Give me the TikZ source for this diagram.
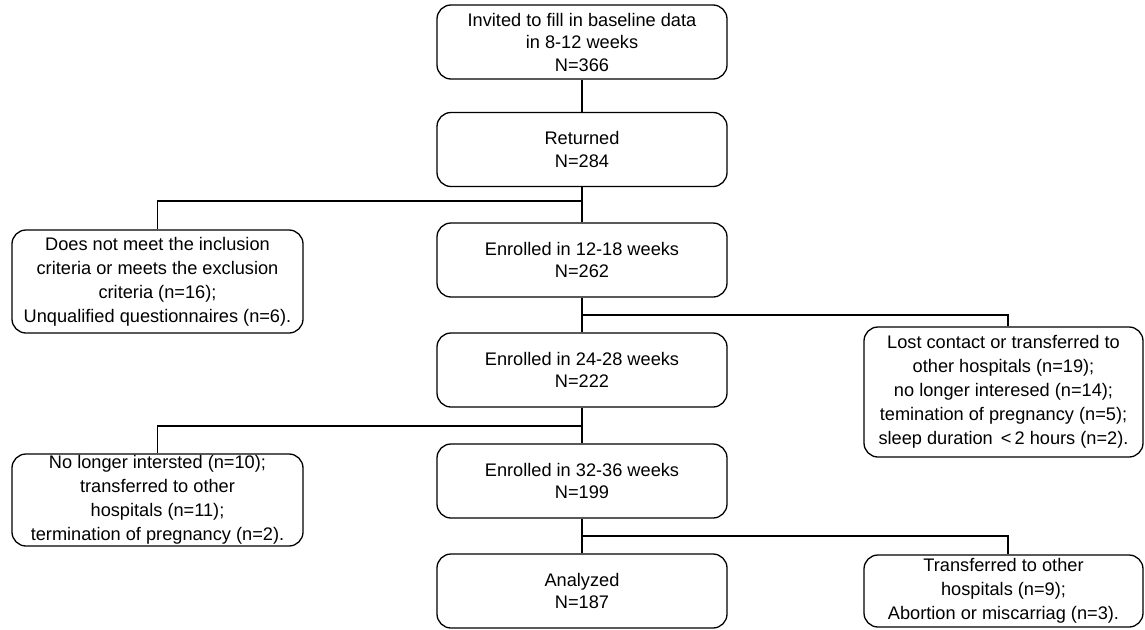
\documentclass[tikz,border=0pt]{standalone}
\usepackage{fontspec}
\setmainfont{Liberation Sans}
\usepackage{tikz}
\usetikzlibrary{arrows.meta}
\tikzstyle{mainbox} = [draw, line width=1.3pt, rounded corners=14pt, align=center, minimum width=290pt, minimum height=74pt, inner sep=0pt, font=\fontsize{18.2}{22.5}\selectfont]
\tikzstyle{sidebox} = [mainbox, font=\fontsize{18.2}{24}\selectfont]
\tikzstyle{link} = [line width=1.3pt]

\begin{document}
\begin{tikzpicture}[x=1pt, y=-1pt]
    \useasboundingbox (0,0) rectangle (1145,629);

    % 主流程
    \node[mainbox] (invited) at (582,42) {Invited to fill in baseline data\\in 8-12 weeks\\N=366};
    \node[mainbox] (returned) at (582,149.5) {Returned\\N=284};
    \node[mainbox] (enrolA) at (582,260) {Enrolled in 12-18 weeks\\N=262};
    \node[mainbox] (enrolB) at (582,370) {Enrolled in 24-28 weeks\\N=222};
    \node[mainbox] (enrolC) at (582,481) {Enrolled in 32-36 weeks\\N=199};
    \node[mainbox] (analyzed) at (582,591) {Analyzed\\N=187};

    % 排除的人数
    \node[sidebox, minimum width=291pt, minimum height=103pt] (exclA) at (157.5,281.5)
        {Does not meet the inclusion\\criteria or meets the exclusion\\criteria (n=16);\\Unqualified questionnaires (n=6).};
    \node[sidebox, minimum width=279pt, minimum height=130pt] (exclB) at (1003.5,392)
        {Lost contact or transferred to\\other hospitals (n=19);\\no longer interesed (n=14);\\temination of pregnancy (n=5);\\sleep duration \,<\,2 hours (n=2).};
    \node[sidebox, minimum width=291pt, minimum height=92pt] (exclC) at (157.5,500)
        {No longer intersted (n=10);\\transferred to other\\hospitals (n=11);\\termination of pregnancy (n=2).};
    \node[sidebox, minimum width=279pt, minimum height=72pt] (exclD) at (1003.5,591)
        {Transferred to other\\hospitals (n=9);\\Abortion or miscarriag (n=3).};

    \coordinate (splitA) at (582,201);
    \coordinate (splitB) at (582,315);
    \coordinate (splitC) at (582,426);
    \coordinate (splitD) at (582,536);

    \draw[link] (invited) -- (returned);
    \draw[link] (returned) -- (enrolA);
    \draw[link] (enrolA) -- (enrolB);
    \draw[link] (enrolB) -- (enrolC);
    \draw[link] (enrolC) -- (analyzed);

    \draw[link] (splitA) -| (exclA.north);
    \draw[link] (splitB) -| ([xshift=4.5pt]exclB.north);
    \draw[link] (splitC) -| (exclC.north);
    \draw[link] (splitD) -| ([xshift=4.5pt]exclD.north);
\end{tikzpicture}
\end{document}
